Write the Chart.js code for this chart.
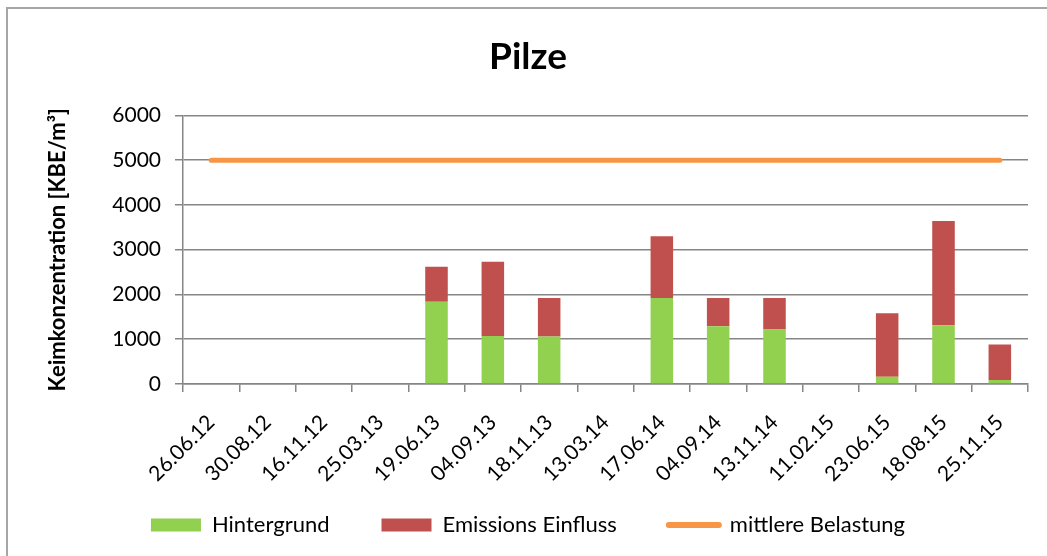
<!DOCTYPE html>
<html>
<head>
<meta charset="utf-8">
<script src="https://cdn.jsdelivr.net/npm/chart.js@4"></script>
<style>
  body { margin: 0; background: #fff; }
  .frame {
    position: absolute; left: 6px; top: 7px; width: 1041px; height: 549px;
    border-top: 2px solid #a6a6a6; border-left: 2px solid #a6a6a6; box-sizing: border-box;
  }
  #pilzeChart { position: absolute; left: 1px; top: 1px; }
</style>
</head>
<body>
<div class="frame">
  <canvas id="pilzeChart" width="1038" height="546"></canvas>
</div>
<script>
// Probenahmetermine
const dates = ['26.06.12', '30.08.12', '16.11.12', '25.03.13', '19.06.13', '04.09.13', '18.11.13',
  '13.03.14', '17.06.14', '04.09.14', '13.11.14', '11.02.15', '23.06.15', '18.08.15', '25.11.15'];

// KBE/m³
const hintergrund = [null, null, null, null, 1840, 1070, 1060, null, 1920, 1290, 1220, null, 160, 1310, 90];
const emissionsEinfluss = [null, null, null, null, 780, 1660, 860, null, 1380, 630, 700, null, 1420, 2330, 790];
const mittlereBelastung = [5000, 5000, 5000, 5000, 5000, 5000, 5000, 5000, 5000, 5000, 5000, 5000, 5000, 5000, 5000];

const yTicks = [0, 1000, 2000, 3000, 4000, 5000, 6000];

const fontFamily = 'Lato, "Open Sans", sans-serif';
const gridColor = '#868686';

const ctx = document.getElementById('pilzeChart');

new Chart(ctx, {
  type: 'bar',
  data: {
    labels: dates,
    datasets: [
      {
        label: 'Hintergrund',
        data: hintergrund,
        backgroundColor: '#92D050',
        stack: 'bars',
        order: 2,
      },
      {
        label: 'Emissions Einfluss',
        data: emissionsEinfluss,
        backgroundColor: '#C0504D',
        stack: 'bars',
        order: 2,
      },
      {
        type: 'line',
        label: 'mittlere Belastung',
        data: mittlereBelastung,
        borderColor: '#F79646',
        backgroundColor: '#F79646',
        borderWidth: 5,
        borderCapStyle: 'round',
        pointRadius: 0,
        stack: 'line',
        order: 1,
      },
    ],
  },
  options: {
    responsive: false,
    animation: false,
    layout: { padding: { left: 19, right: 19, top: 0, bottom: 10 } },
    datasets: {
      bar: { barPercentage: 0.4, categoryPercentage: 1.0 },
    },
    plugins: {
      title: {
        display: true,
        text: 'Pilze',
        color: '#000',
        font: { family: fontFamily, size: 37, weight: 'bold' },
        padding: { top: 25, bottom: 36 },
      },
      legend: {
        position: 'bottom',
        labels: {
          color: '#000',
          font: { family: fontFamily, size: 22 },
          usePointStyle: true,
          pointStyleWidth: 50,
          boxHeight: 13,
          padding: 52,
          sort: (a, b) => a.datasetIndex - b.datasetIndex,
          generateLabels: (chart) => {
            const items = Chart.defaults.plugins.legend.labels.generateLabels(chart);
            return items.map(item => {
              const ds = chart.data.datasets[item.datasetIndex];
              if (ds.type === 'line') {
                return { ...item, pointStyle: 'line', lineWidth: 6, lineCap: 'round', strokeStyle: '#F79646' };
              }
              return { ...item, pointStyle: 'rect', lineWidth: 0 };
            });
          },
        },
      },
      tooltip: { enabled: false },
    },
    scales: {
      x: {
        stacked: true,
        offset: true,
        grid: {
          offset: true,
          drawOnChartArea: false,
          drawTicks: true,
          tickLength: 8,
          lineWidth: 1.5,
          color: gridColor,
        },
        border: { color: gridColor, width: 1.5 },
        ticks: {
          color: '#000',
          font: { family: fontFamily, size: 21 },
          minRotation: 45,
          maxRotation: 45,
          padding: 18,
          autoSkip: false,
        },
        afterFit: (scale) => {
          scale.height = 78;
          // labels hang below the fixed axis box, so don't clip them
          scale._computeLabelArea = () => undefined;
        },
      },
      y: {
        stacked: true,
        min: 0,
        max: 6000,
        afterBuildTicks: (scale) => { scale.ticks = yTicks.map(v => ({ value: v })); },
        grid: { color: gridColor, lineWidth: 1.5, tickLength: 8 },
        border: { color: gridColor, width: 1.5 },
        ticks: {
          color: '#000',
          font: { family: fontFamily, size: 21 },
          padding: 14,
          callback: (v) => String(v),
        },
        title: {
          display: true,
          text: 'Keimkonzentration [KBE/m³]',
          color: '#000',
          font: { family: fontFamily, size: 22, weight: 'bold' },
          padding: { top: 17, bottom: 0 },
        },
        afterFit: (scale) => { scale.width = 155; },
      },
    },
  },
});
</script>
</body>
</html>
